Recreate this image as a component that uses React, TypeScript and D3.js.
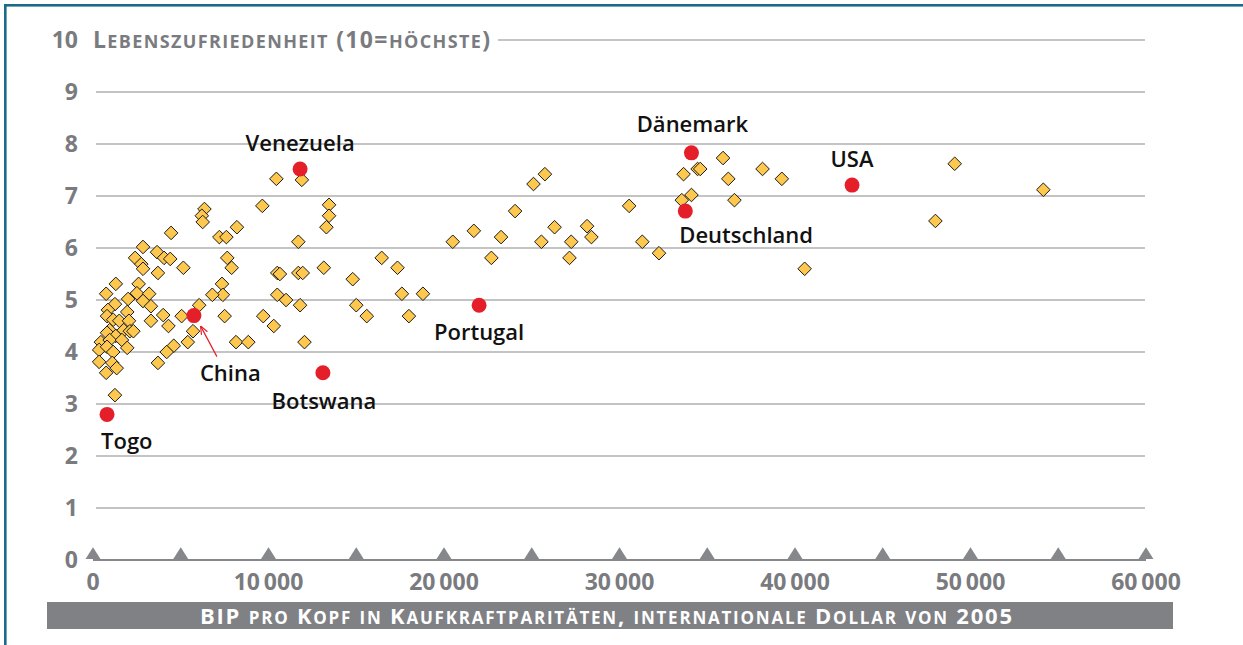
import React from "react";
import * as d3 from "d3";

// ---- data ----
const gdpPerCapita = [
  1300, 750, 2600, 2500, 2000, 3200, 2850, 3300, 1250, 850,
  800, 1150, 1500, 1950, 2050, 3300, 4000, 4300, 5050, 950,
  800, 1300, 1750, 2100, 2300, 450, 950, 1650, 1950, 350,
  800, 1150, 350, 1100, 1350, 750, 4600, 4200, 3700, 1250,
  4450, 2850, 3650, 2400, 4050, 4400, 2750, 2850, 5150, 3700,
  5700, 5400, 6050,
  10450, 11900, 9650, 6350, 6200, 6250, 8200, 7200, 7600, 11700,
  7650, 7900, 10500, 10650, 11700, 11950, 7350, 7400, 6800, 10500,
  11000, 11800, 7500, 9700, 10300, 8150, 8850, 12050,
  13450, 13450, 13300, 20500, 21700, 16450, 17350, 14800, 13150, 15000,
  15600, 17600, 18800, 18000,
  25100, 25750, 24050, 23250, 22700, 25550, 26300, 27250, 27150, 28150, 28400,
  30550, 31300, 32250, 33650, 34450, 34600, 35900, 36200, 36550, 38150, 39250, 33550, 34100, 40550,
  49100, 48000, 54150,
];
const lifeSatisfaction = [
  5.31, 5.12, 5.31, 5.13, 5.02, 5.12, 4.98, 4.88, 4.92, 4.81,
  4.69, 4.62, 4.6, 4.77, 4.6, 4.6, 4.71, 4.5, 4.69, 4.42,
  4.37, 4.31, 4.42, 4.4, 4.4, 4.19, 4.23, 4.23, 4.08, 4.04,
  4.1, 4.0, 3.81, 3.79, 3.69, 3.6, 4.12, 4.0, 3.79, 3.17,
  6.29, 6.02, 5.92, 5.81, 5.81, 5.79, 5.69, 5.6, 5.62, 5.52,
  4.4, 4.19, 4.9,
  7.33, 7.31, 6.81, 6.75, 6.62, 6.5, 6.4, 6.21, 6.21, 6.12,
  5.81, 5.62, 5.52, 5.5, 5.52, 5.52, 5.31, 5.1, 5.1, 5.1,
  5.0, 4.9, 4.69, 4.69, 4.5, 4.19, 4.19, 4.19,
  6.83, 6.62, 6.4, 6.12, 6.33, 5.81, 5.62, 5.4, 5.62, 4.9,
  4.69, 5.12, 5.12, 4.69,
  7.23, 7.42, 6.71, 6.21, 5.81, 6.12, 6.4, 6.12, 5.81, 6.42, 6.21,
  6.81, 6.12, 5.9, 7.42, 7.52, 7.52, 7.73, 7.33, 6.92, 7.52, 7.33, 6.92, 7.02, 5.6,
  7.62, 6.52, 7.12,
];

const highlightNames = ["Togo", "China", "Botswana", "Venezuela", "Portugal", "Dänemark", "Deutschland", "USA"];
const highlightGdp = [800, 5750, 13100, 11800, 22000, 34100, 33750, 43250];
const highlightLife = [2.8, 4.7, 3.6, 7.52, 4.9, 7.83, 6.71, 7.21];

const yTicks = [0, 1, 2, 3, 4, 5, 6, 7, 8, 9, 10];
const xLabelTicks = [0, 10000, 20000, 30000, 40000, 50000, 60000];
const xMarkerTicks = [0, 5000, 10000, 15000, 20000, 25000, 30000, 35000, 40000, 45000, 50000, 55000, 60000];

const yTitle = "Lebenszufriedenheit (10=höchste)";
const xTitle = "BIP pro Kopf in Kaufkraftparitäten, internationale Dollar von 2005";

// ---- style ----
const W = 1243;
const H = 645;
const FONT = "'Open Sans', 'DejaVu Sans', sans-serif";
const GRAY_TEXT = "#7a7b7f";
const GRID = "#c4c4c4";
const AXIS = "#86878b";
const DIAMOND_FILL = "#fec84f";
const RED = "#e51f2a";
const FRAME = "#1c6a89";

// label placement per highlighted country: [dx, dy, anchor]
const labelPlacement: Record<string, [number, number, string]> = {
  Togo: [-6, 35, "start"],
  China: [6, 65, "start"],
  Botswana: [1, 36, "middle"],
  Venezuela: [0, -18, "middle"],
  Portugal: [0, 35, "middle"],
  "Dänemark": [1, -21, "middle"],
  Deutschland: [-6, 32, "start"],
  USA: [0, -18, "middle"],
};

// Render a string as small caps: uppercase/digits/punctuation at capSize, lowercase runs at scSize with small-caps
function smallCaps(text: string, capSize: number, scSize: number) {
  const parts: { s: string; lower: boolean }[] = [];
  for (const ch of text) {
    const lower = ch !== ch.toUpperCase();
    const last = parts[parts.length - 1];
    if (last && last.lower === lower) last.s += ch;
    else parts.push({ s: ch, lower });
  }
  return parts.map((p, i) => (
    <tspan key={i} fontSize={p.lower ? scSize : capSize} style={p.lower ? { fontVariant: "small-caps" } : undefined}>
      {p.s}
    </tspan>
  ));
}

export default function App() {
  const x = d3.scaleLinear().domain([0, 60000]).range([93, 1146]);
  const y = d3.scaleLinear().domain([0, 10]).range([560, 40]);
  const fmt = d3.formatLocale({ thousands: "\u2009", grouping: [3], decimal: ",", currency: ["", "€"] }).format(",d");

  const diamond = d3.symbol().type(d3.symbolDiamond2).size(118)();
  const tri = d3.symbol().type(d3.symbolTriangle).size(80)();

  const china = highlightNames.indexOf("China");
  const cx = x(highlightGdp[china]);
  const cy = y(highlightLife[china]);

  return (
    <svg width={W} height={H} style={{ position: "absolute", left: 0, top: 0, background: "#fff" }} fontFamily={FONT}>
      <defs>
        <marker id="arr" viewBox="0 0 10 10" refX="9" refY="5" markerWidth="7" markerHeight="7" orient="auto">
          <path d="M0,1 L10,5 L0,9" fill="none" stroke={RED} strokeWidth="1.4" />
        </marker>
      </defs>
      {/* frame */}
      <rect x={4} y={4} width={W - 4} height={2.6} fill={FRAME} />
      <rect x={4} y={4} width={2.6} height={H - 4} fill={FRAME} />

      {/* gridlines */}
      {yTicks.filter((t) => t > 0).map((t) => (
        <line key={t} x1={t === 10 ? 498 : 96} x2={1145} y1={y(t)} y2={y(t)} stroke={GRID} strokeWidth={2} />
      ))}
      {/* y tick labels */}
      {yTicks.map((t) => (
        <text key={t} x={78} y={y(t)} dy="0.36em" textAnchor="end" fill={GRAY_TEXT} fontSize={23} fontWeight={700}>
          {t}
        </text>
      ))}
      <text x={93} y={y(10) + 8} fill={GRAY_TEXT} fontSize={23} fontWeight={700} textLength={397} lengthAdjust="spacing">
        {smallCaps(yTitle, 23, 25)}
      </text>

      {/* x axis */}
      <line x1={x(0)} x2={x(60000)} y1={y(0)} y2={y(0)} stroke={AXIS} strokeWidth={2} />
      {xMarkerTicks.map((t) => (
        <path key={t} d={tri!} transform={`translate(${x(t)},${y(0) - 4.8}) scale(1.1,1)`} fill={AXIS} />
      ))}
      {xLabelTicks.map((t) => (
        <text key={t} x={x(t)} y={582} dy="0.36em" textAnchor="middle" fill={GRAY_TEXT} fontSize={23} fontWeight={700}>
          {fmt(t)}
        </text>
      ))}
      <rect x={47} y={602} width={1126} height={27} fill="#808185" />
      <text x={200} y={623.5} fill="#fff" fontSize={22} fontWeight={700} textLength={812} lengthAdjust="spacing">
        {smallCaps(xTitle, 22, 24)}
      </text>

      {/* diamonds */}
      {gdpPerCapita.map((g, i) => (
        <path
          key={i}
          d={diamond!}
          transform={`translate(${x(g)},${y(lifeSatisfaction[i])})`}
          fill={DIAMOND_FILL}
          stroke="#1a1a1a"
          strokeWidth={1}
        />
      ))}

      {/* China arrow */}
      <line x1={cx + 23} y1={cy + 41} x2={cx + 7} y2={cy + 11} stroke={RED} strokeWidth={1.2} markerEnd="url(#arr)" />

      {/* highlighted */}
      {highlightNames.map((n, i) => {
        const px = x(highlightGdp[i]);
        const py = y(highlightLife[i]);
        const [dx, dy, anchor] = labelPlacement[n];
        return (
          <g key={n}>
            <circle cx={px} cy={py} r={7.5} fill={RED} />
            <text x={px + dx} y={py + dy} textAnchor={anchor as any} fontSize={22} fontWeight={600} fill="#111">
              {n}
            </text>
          </g>
        );
      })}
    </svg>
  );
}
